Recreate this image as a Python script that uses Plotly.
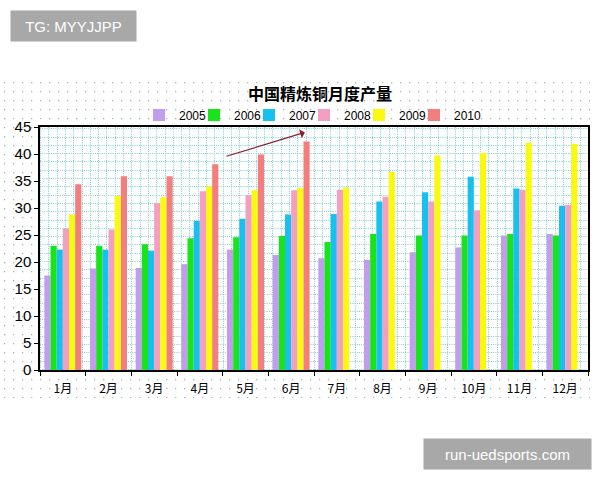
import base64
import plotly.graph_objects as go

months = ["1月", "2月", "3月", "4月", "5月", "6月", "7月", "8月", "9月", "10月", "11月", "12月"]
years = ["2005", "2006", "2007", "2008", "2009", "2010"]
v2005 = [17.5, 18.8, 18.9, 19.6, 22.3, 21.3, 20.7, 20.4, 21.8, 22.7, 24.9, 25.2]
v2006 = [23.0, 23.0, 23.3, 24.4, 24.6, 24.8, 23.7, 25.2, 24.9, 24.9, 25.2, 24.9]
v2007 = [22.3, 22.3, 22.1, 27.6, 28.0, 28.8, 28.9, 31.2, 32.9, 35.8, 33.6, 30.4]
v2008 = [26.2, 26.0, 30.9, 33.1, 32.4, 33.3, 33.4, 32.1, 31.2, 29.6, 33.4, 30.6]
v2009 = [28.8, 32.2, 32.0, 34.0, 33.3, 33.7, 33.8, 36.7, 39.7, 40.2, 42.1, 41.9]
v2010 = [34.4, 35.9, 35.9, 38.1, 39.9, 42.3, None, None, None, None, None, None]
series = [v2005, v2006, v2007, v2008, v2009, v2010]
colors = ["#c09ded", "#19e319", "#18c0f0", "#f39fc2", "#fafa10", "#f27e7e"]
y_ticks = [0, 5, 10, 15, 20, 25, 30, 35, 40, 45]

W, H = 600, 480
ML, MR, MT, MB = 40, 12, 127, 110
PW, PH = W - ML - MR, H - MT - MB


def px_to_paper(px, py):
    return (px - ML) / PW, (H - MB - py) / PH


def uri(svg):
    return "data:image/svg+xml;base64," + base64.b64encode(svg.encode()).decode()


# outer chart-area texture (dots)
ow, oh = 590, 320
outer = (f'<svg xmlns="http://www.w3.org/2000/svg" width="{ow}" height="{oh}" viewBox="0 0 {ow} {oh}">'
         '<defs><pattern id="p" width="9" height="9" patternUnits="userSpaceOnUse">'
         '<rect x="4" y="4" width="1.3" height="1.3" fill="#a9b4b4"/></pattern></defs>'
         f'<rect width="{ow}" height="{oh}" fill="white"/><rect width="{ow}" height="{oh}" fill="url(#p)"/></svg>')

# inner plot-area texture (cyan dotted grid)
lines = []
step = 8.3
k = 0
while k * step < PW:
    x = round(k * step) + 0.5
    lines.append(f'<line x1="{x}" y1="0" x2="{x}" y2="{PH}"/>')
    k += 1
k = 0
while k * step < PH:
    y = PH - round(k * step) - 0.5
    lines.append(f'<line x1="0" y1="{y}" x2="{PW}" y2="{y}"/>')
    k += 1
inner = (f'<svg xmlns="http://www.w3.org/2000/svg" width="{PW}" height="{PH}" viewBox="0 0 {PW} {PH}">'
         f'<rect width="{PW}" height="{PH}" fill="white"/>'
         '<g stroke="#7ccfd6" stroke-width="1" stroke-dasharray="1 1.2">' + "".join(lines) + '</g></svg>')

fig = go.Figure()
legend_ids = ["legend2", "legend3", "legend4", "legend5", "legend6", "legend7"]
for name, vals, c, lid in zip(years, series, colors, legend_ids):
    fig.add_trace(go.Bar(x=months, y=vals, name=name, legend=lid,
                         marker=dict(color=c, line=dict(width=0))))

ox0, oy0 = px_to_paper(0, 78)
ox1, oy1 = px_to_paper(590, 398)

# one compact legend box per year, laid out in a row like the original
legend_text_px = [179, 234, 289, 344, 399, 454]
legend_layout = {}
for lid, tx_px in zip(legend_ids, legend_text_px):
    lx, ly = px_to_paper(tx_px - 40, 115)
    legend_layout[lid] = dict(orientation="h", x=lx, xref="paper", xanchor="left", y=ly, yanchor="middle",
                              bgcolor="rgba(0,0,0,0)", borderwidth=0, itemwidth=30,
                              font=dict(size=12, family="Liberation Sans", color="black"))

fig.update_layout(
    width=W, height=H,
    margin=dict(l=ML, r=MR, t=MT, b=MB, autoexpand=False),
    paper_bgcolor="white",
    plot_bgcolor="rgba(0,0,0,0)",
    barmode="group", bargap=0.19, bargroupgap=0,
    font=dict(family="Liberation Sans, Arial", color="black"),
    title=dict(text="<b>中国精炼铜月度产量</b>", x=320 / W, xref="container", xanchor="center",
               y=1 - 94 / H, yref="container", yanchor="middle",
               font=dict(family="Noto Sans CJK SC", size=16, color="black")),
    images=[
        dict(source=uri(outer), xref="paper", yref="paper", x=ox0, y=oy0, sizex=ox1 - ox0, sizey=oy0 - oy1,
             xanchor="left", yanchor="top", sizing="stretch", layer="below"),
        dict(source=uri(inner), xref="paper", yref="paper", x=0, y=1, sizex=1, sizey=1,
             xanchor="left", yanchor="top", sizing="stretch", layer="below"),
    ],
    xaxis=dict(type="category", range=[-0.5, 11.5], showgrid=False, showline=True, linecolor="black",
               linewidth=1.5, mirror=True, ticks="outside", tickson="boundaries", ticklen=4,
               tickcolor="black", tickfont=dict(family="Noto Sans CJK SC", size=12), zeroline=False,
               ticklabelstandoff=7, tickangle=0, automargin=False),
    yaxis=dict(range=[0, 45], tickvals=y_ticks, showgrid=False, showline=True, linecolor="black",
               linewidth=1.5, mirror=True, ticks="outside", ticklen=4, tickcolor="black",
               tickfont=dict(size=15), zeroline=False, automargin=False),
    **legend_layout,
)

fig.add_annotation(x=5.3, y=44.0, ax=3.55, ay=39.5, xref="x", yref="y", axref="x", ayref="y",
                   text="", showarrow=True, arrowhead=1, arrowsize=1.3, arrowwidth=1.2, arrowcolor="#8b1f2a")

tx, ty = px_to_paper(10, 10)
fig.add_annotation(x=tx, y=ty, xref="paper", yref="paper", xanchor="left", yanchor="top",
                   text="TG: MYYJJPP", showarrow=False, bgcolor="#a8a8a8", width=117, height=22, borderpad=4,
                   font=dict(color="white", size=15, family="Liberation Sans"))
bx, by = px_to_paper(592, 470)
fig.add_annotation(x=bx, y=by, xref="paper", yref="paper", xanchor="right", yanchor="bottom",
                   text="run-uedsports.com", showarrow=False, bgcolor="#a8a8a8", width=159, height=22,
                   borderpad=4, font=dict(color="white", size=15, family="Liberation Sans"))

fig.write_html("out.html")
